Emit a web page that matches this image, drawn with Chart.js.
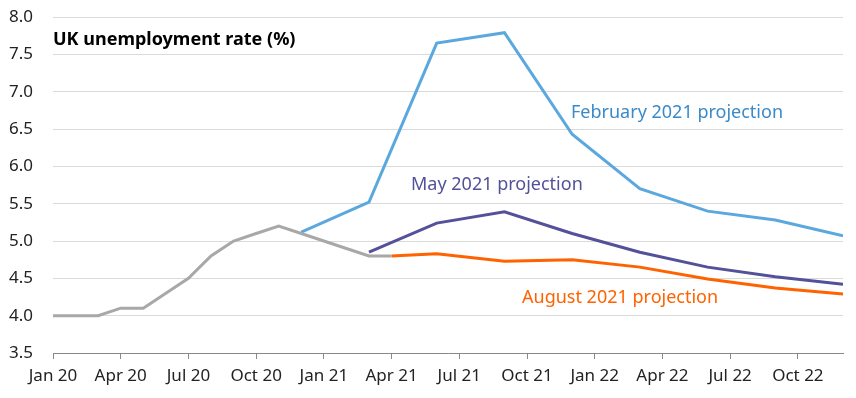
<!DOCTYPE html>
<html><head><meta charset="utf-8">
<script src="https://cdn.jsdelivr.net/npm/chart.js@4/dist/chart.umd.min.js"></script>
<style>html,body{margin:0;padding:0;background:#fff}#wrap{width:856px;height:398px}</style>
</head><body><div id="wrap"><canvas id="c"></canvas></div>
<script>
const tickLabels = ["Jan 20","Apr 20","Jul 20","Oct 20","Jan 21","Apr 21","Jul 21","Oct 21","Jan 22","Apr 22","Jul 22","Oct 22"];
// month index 0 = Jan 2020
const actualMonths = [0,1,2,3,4,5,6,7,8,9,10,11,12,13,14,15];
const actualValues = [4.0,4.0,4.0,4.1,4.1,4.3,4.5,4.8,5.0,5.1,5.2,5.1,5.0,4.9,4.8,4.8];
const febMonths = [11,14,17,20,23,26,29,32,35];
const febValues = [5.12,5.52,7.65,7.79,6.43,5.70,5.40,5.28,5.07];
const mayMonths = [14,17,20,23,26,29,32,35];
const mayValues = [4.85,5.24,5.39,5.10,4.85,4.65,4.52,4.42];
const augMonths = [15,17,20,23,26,29,32,35];
const augValues = [4.80,4.83,4.73,4.75,4.65,4.49,4.37,4.29];

const pts = (xs, ys) => xs.map((x,i)=>({x:x,y:ys[i]}));
const FONT = "'Noto Sans', sans-serif";

const annot = {
  id:'annot',
  afterDatasetsDraw(chart){
    const c = chart.ctx;
    c.save();
    c.textBaseline = 'middle';
    c.textAlign = 'left';
    c.font = "bold 18px " + FONT;
    c.fillStyle = '#000';
    c.fillText('UK unemployment rate (%)', chart.chartArea.left, 40);
    c.font = "18px " + FONT;
    c.fillStyle = '#3A8AC9';
    c.fillText('February 2021 projection', 571, 113);
    c.fillStyle = '#525199';
    c.fillText('May 2021 projection', 411, 185);
    c.fillStyle = '#FF6200';
    c.fillText('August 2021 projection', 522, 298);
    c.restore();
  }
};

new Chart(document.getElementById('c'), {
  type:'line',
  data:{datasets:[
    {data:pts(actualMonths,actualValues), borderColor:'#A8A8A8', borderWidth:3, pointRadius:0, tension:0},
    {data:pts(febMonths,febValues), borderColor:'#5BA8DF', borderWidth:3, pointRadius:0, tension:0},
    {data:pts(mayMonths,mayValues), borderColor:'#525199', borderWidth:3, pointRadius:0, tension:0},
    {data:pts(augMonths,augValues), borderColor:'#FF6200', borderWidth:3, pointRadius:0, tension:0}
  ]},
  options:{
    responsive:true, maintainAspectRatio:false, animation:false,
    layout:{padding:{top:17,right:13,left:0,bottom:0}},
    plugins:{legend:{display:false}, tooltip:{enabled:false}},
    scales:{
      x:{type:'linear', min:0, max:35,
        afterBuildTicks(s){ s.ticks = tickLabels.map((_,i)=>({value:i*3})); },
        afterFit(s){ s.height = 45; s.paddingLeft = 0; s.paddingRight = 0; },
        ticks:{callback:(v)=>tickLabels[v/3], color:'#222', font:{family:FONT,size:17}, padding:7, maxRotation:0, autoSkip:false},
        grid:{display:true, drawOnChartArea:false, drawTicks:true, tickLength:6, color:'#888'},
        border:{color:'#888', width:1}
      },
      y:{min:3.5, max:8.0,
        afterBuildTicks(s){ const t=[]; for(let v=3.5; v<=8.001; v+=0.5) t.push({value:Math.round(v*10)/10}); s.ticks=t; },
        afterFit(s){ s.width = 53; s.paddingTop = 0; s.paddingBottom = 0; },
        ticks:{callback:(v)=>v.toFixed(1), color:'#222', font:{family:FONT,size:17}, padding:20},
        grid:{color:'#DADADA', drawTicks:false, lineWidth:1},
        border:{display:false}
      }
    }
  },
  plugins:[annot]
});
</script></body></html>
